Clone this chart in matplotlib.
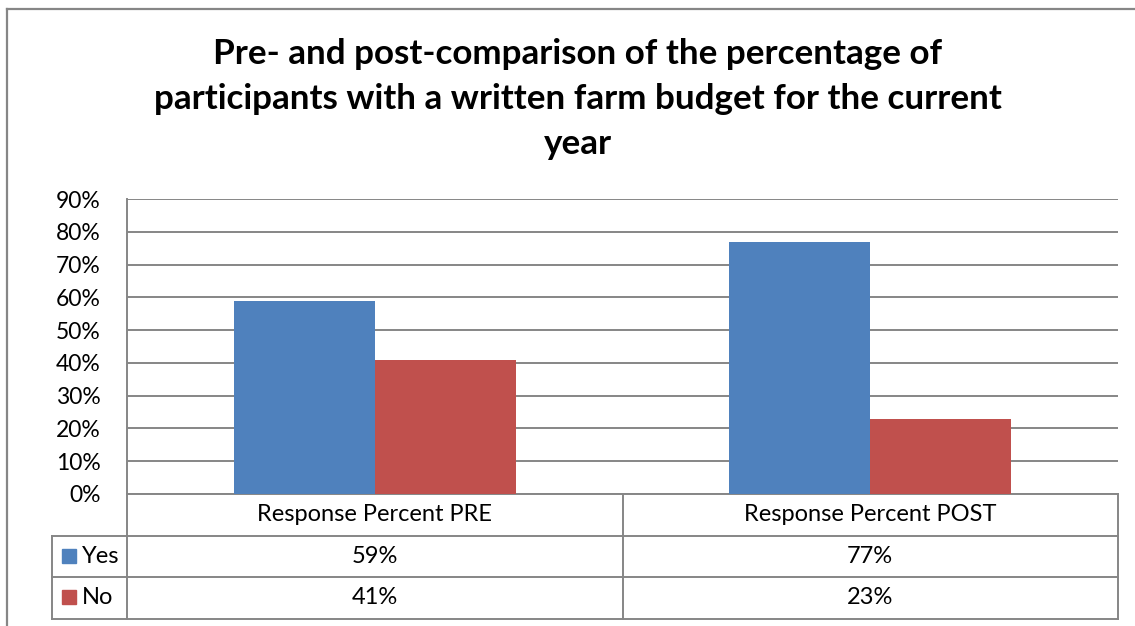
import numpy as np
import matplotlib.pyplot as plt
from matplotlib.lines import Line2D
from matplotlib.patches import Rectangle

# survey responses (percent)
groups = ['Response Percent PRE', 'Response Percent POST']
answers = ['Yes', 'No']
yes_pct = [59, 77]
no_pct = [41, 23]
colors = ['#4F81BD', '#C0504D']
yticks = [0, 10, 20, 30, 40, 50, 60, 70, 80, 90]

title = ('Pre- and post-comparison of the percentage of\n'
         'participants with a written farm budget for the current\n'
         'year')

plt.rcParams['font.family'] = ['Lato', 'DejaVu Sans']
grid_col = '#868686'
fs = 17

fig = plt.figure(figsize=(11.35, 6.26), dpi=100)
W, H = 1135, 626

# outer chart frame (runs off the right and bottom edges)
fig.add_artist(Line2D([7 / W, 7 / W], [0, 1 - 9 / H], color=grid_col, lw=1.6))
fig.add_artist(Line2D([7 / W, 1], [1 - 9 / H, 1 - 9 / H], color=grid_col, lw=1.6))

left, right, top, bottom = 127, 1118, 199, 494
ax = fig.add_axes([left / W, 1 - bottom / H, (right - left) / W, (bottom - top) / H])

x = np.arange(len(groups))
bw = 0.285
ax.bar(x - bw / 2, yes_pct, bw, color=colors[0], zorder=3)
ax.bar(x + bw / 2, no_pct, bw, color=colors[1], zorder=3)

ax.set_xlim(-0.5, len(groups) - 0.5)
ax.set_ylim(0, 90)
ax.set_yticks(yticks)
ax.set_yticklabels([f'{v}%' for v in yticks], fontsize=fs - 0.5)
ax.set_xticks([])
ax.tick_params(axis='y', length=0, pad=19)
ax.yaxis.grid(True, color=grid_col, lw=1.4)
ax.set_axisbelow(True)
for s in ['top', 'right', 'bottom']:
    ax.spines[s].set_visible(False)
ax.spines['left'].set_color(grid_col)
ax.spines['left'].set_linewidth(1.4)

# data table under the plot
ph = bottom - top
row_h = 41.5 / ph
leg_x = -(left - 52) / (right - left)
tr = ax.transAxes
kw = dict(color=grid_col, lw=1.4, transform=tr, clip_on=False)

n_rows = 1 + len(answers)
y_lines = [-i * row_h for i in range(n_rows + 1)]
ax.add_line(Line2D([0, 1], [y_lines[0]] * 2, **kw))
for yy in y_lines[1:]:
    ax.add_line(Line2D([leg_x, 1], [yy] * 2, **kw))
ax.add_line(Line2D([leg_x, leg_x], [y_lines[1], y_lines[-1]], **kw))
ax.add_line(Line2D([0, 0], [0, y_lines[-1]], **kw))
ax.add_line(Line2D([1, 1], [0, y_lines[-1]], **kw))
for k in range(1, len(groups)):
    xf = k / len(groups)
    ax.add_line(Line2D([xf, xf], [0, y_lines[-1]], **kw))

for j, g in enumerate(groups):
    ax.text((j + 0.5) / len(groups), -0.5 * row_h, g, transform=tr,
            ha='center', va='center', fontsize=fs)

for i, (name, vals) in enumerate(zip(answers, [yes_pct, no_pct])):
    yc = -(i + 1.5) * row_h
    ax.add_patch(Rectangle((leg_x + 10 / (right - left), yc - 6.5 / ph),
                           14 / (right - left), 14 / ph, color=colors[i],
                           transform=tr, clip_on=False))
    ax.text(leg_x + 30 / (right - left), yc, name, transform=tr,
            ha='left', va='center', fontsize=fs)
    for j, v in enumerate(vals):
        ax.text((j + 0.5) / len(groups), yc, f'{v}%', transform=tr,
                ha='center', va='center', fontsize=fs)

fig.text(578 / W, 1 - 99 / H, title, ha='center', va='center',
         fontsize=25.2, fontweight='bold', linespacing=1.5)

fig.savefig('out.png', dpi=100)
